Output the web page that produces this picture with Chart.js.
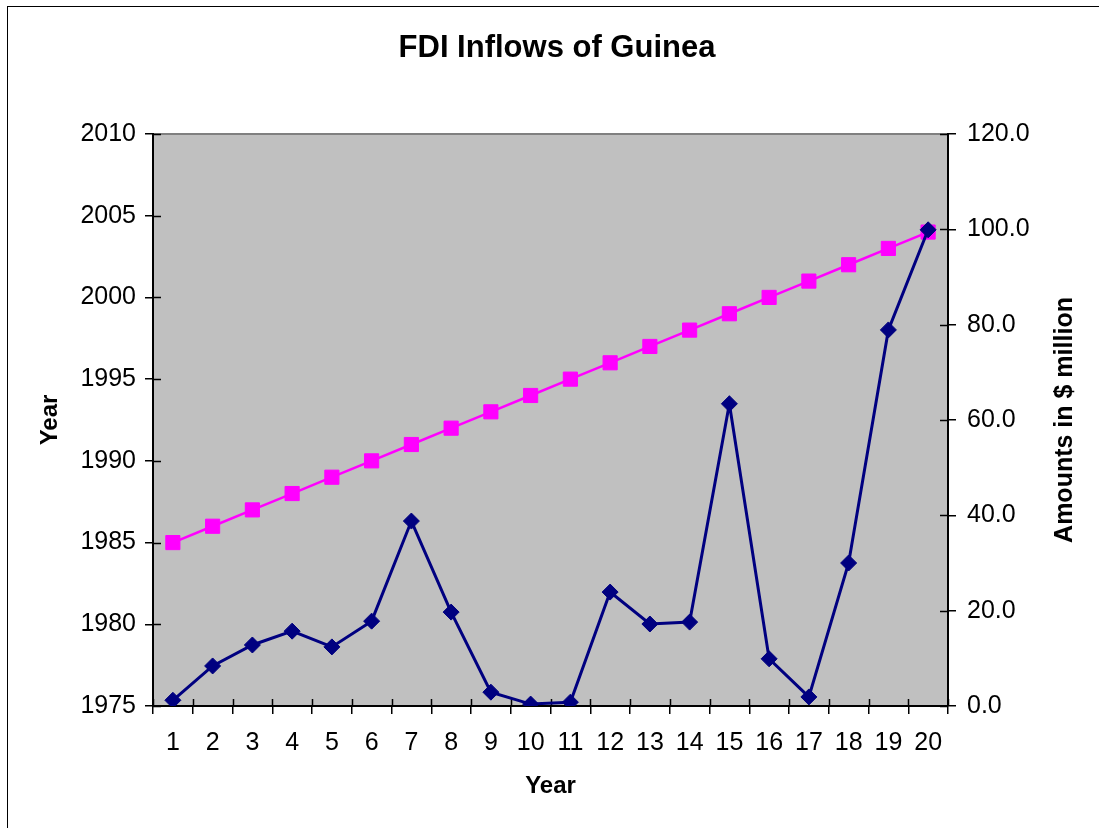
<!DOCTYPE html>
<html>
<head>
<meta charset="utf-8">
<script src="https://cdn.jsdelivr.net/npm/chart.js@4.4.1/dist/chart.umd.min.js"></script>
<style>
  html, body { margin: 0; padding: 0; background: #fff; overflow: hidden; }
  #wrap { position: relative; width: 1099px; height: 828px; }
  #frame { position: absolute; left: 7px; top: 6px; width: 1200px; height: 900px; border: 1.5px solid #000; box-sizing: border-box; pointer-events: none; }
  canvas { position: absolute; left: 0; top: 0; }
</style>
</head>
<body>
<div id="wrap">
  <canvas id="c" width="1099" height="828"></canvas>
  <div id="frame"></div>
</div>
<script>
const chartTitle = 'FDI Inflows of Guinea';
const categories = ['1','2','3','4','5','6','7','8','9','10','11','12','13','14','15','16','17','18','19','20'];
const years = [1985,1986,1987,1988,1989,1990,1991,1992,1993,1994,1995,1996,1997,1998,1999,2000,2001,2002,2003,2004];
const fdiAmounts = [1.2,8.4,12.8,15.7,12.4,17.8,38.8,19.7,2.9,0.4,0.8,23.9,17.2,17.6,63.4,9.9,1.9,30.0,78.9,99.9];
const leftTicks = [1975,1980,1985,1990,1995,2000,2005,2010];
const rightTicks = [0,20,40,60,80,100,120];

const FONT = "'Liberation Sans', Arial, sans-serif";

const plotBg = {
  id: 'plotBg',
  beforeDraw(chart) {
    const {ctx, chartArea: a} = chart;
    ctx.save();
    ctx.fillStyle = '#C0C0C0';
    ctx.fillRect(a.left, a.top, a.right - a.left, a.bottom - a.top);
    ctx.strokeStyle = '#808080';
    ctx.lineWidth = 2;
    ctx.beginPath();
    ctx.moveTo(a.left, a.top);
    ctx.lineTo(a.right, a.top);
    ctx.stroke();
    ctx.restore();
  },
  beforeDatasetsDraw(chart) {
    const {ctx, chartArea: a, scales} = chart;
    ctx.save();
    ctx.strokeStyle = '#000';
    ctx.lineWidth = 1.5;
    ctx.beginPath();
    scales.y.ticks.forEach(t => {
      const p = Math.round(scales.y.getPixelForValue(t.value)) + 0.5;
      ctx.moveTo(a.left, p); ctx.lineTo(a.left + 8, p);
    });
    scales.y1.ticks.forEach(t => {
      const p = Math.round(scales.y1.getPixelForValue(t.value)) + 0.5;
      ctx.moveTo(a.right, p); ctx.lineTo(a.right - 8, p);
    });
    const n = categories.length;
    for (let i = 0; i <= n; i++) {
      const p = Math.round(scales.x.getPixelForValue(i - 0.5)) + 0.5;
      ctx.moveTo(p, a.bottom); ctx.lineTo(p, a.bottom - 7);
    }
    ctx.stroke();
    ctx.restore();
  },
  afterDraw(chart) {
    const {ctx, chartArea: a} = chart;
    ctx.save();
    ctx.fillStyle = '#000';
    ctx.textAlign = 'center';
    ctx.textBaseline = 'middle';
    ctx.font = "bold 31px " + FONT;
    ctx.fillText(chartTitle, 557, 48);
    ctx.font = "bold 25px " + FONT;
    ctx.translate(1065, (a.top + a.bottom) / 2);
    ctx.rotate(-Math.PI / 2);
    ctx.fillText('Amounts in $ million', 0, 0);
    ctx.restore();
  }
};

new Chart(document.getElementById('c'), {
  type: 'line',
  data: {
    labels: categories,
    datasets: [
      {
        label: 'FDI',
        data: fdiAmounts,
        yAxisID: 'y1',
        borderColor: '#000080',
        backgroundColor: '#000080',
        borderWidth: 3,
        pointStyle: 'rectRot',
        pointRadius: 8,
        pointHoverRadius: 8,
        pointBorderWidth: 1,
        tension: 0
      },
      {
        label: 'Year',
        data: years,
        yAxisID: 'y',
        borderColor: '#FF00FF',
        backgroundColor: '#FF00FF',
        borderWidth: 2.5,
        pointStyle: 'rect',
        pointRadius: 10,
        pointHoverRadius: 10,
        pointBorderWidth: 1,
        tension: 0
      }
    ]
  },
  options: {
    responsive: false,
    animation: false,
    devicePixelRatio: 1,
    layout: { padding: { top: 134, left: 0, right: 0, bottom: 0 } },
    plugins: {
      legend: { display: false },
      tooltip: { enabled: false },
      title: { display: false }
    },
    scales: {
      x: {
        type: 'category',
        offset: true,
        afterFit(s) { s.height = 828 - 706; },
        grid: { display: true, offset: true, drawOnChartArea: false, drawTicks: true, tickLength: 8, color: '#000', lineWidth: 1.5 },
        border: { display: true, color: '#000', width: 2 },
        ticks: { color: '#000', font: { family: FONT, size: 25 }, padding: 14, maxRotation: 0, autoSkip: false },
        title: { display: true, text: 'Year', color: '#000', font: { family: FONT, size: 24, weight: 'bold', lineHeight: 1.2 }, padding: { top: 0, bottom: 27.6 } }
      },
      y: {
        type: 'linear',
        position: 'left',
        min: 1975, max: 2010,
        afterFit(s) { s.width = 153; },
        afterBuildTicks(s) { s.ticks = leftTicks.map(v => ({ value: v })); },
        grid: { display: true, drawOnChartArea: false, drawTicks: true, tickLength: 8, color: '#000', lineWidth: 1.5 },
        border: { display: true, color: '#000', width: 2 },
        ticks: { color: '#000', font: { family: FONT, size: 25 }, padding: 9, callback: v => String(v) },
        title: { display: true, text: 'Year', color: '#000', font: { family: FONT, size: 24, weight: 'bold', lineHeight: 1.2 }, padding: { top: 35.6, bottom: 0 } }
      },
      y1: {
        type: 'linear',
        position: 'right',
        min: 0, max: 120,
        afterFit(s) { s.width = 1099 - 948; },
        afterBuildTicks(s) { s.ticks = rightTicks.map(v => ({ value: v })); },
        grid: { display: true, drawOnChartArea: false, drawTicks: true, tickLength: 8, color: '#000', lineWidth: 1.5 },
        border: { display: true, color: '#000', width: 2 },
        ticks: { color: '#000', font: { family: FONT, size: 25 }, padding: 11, callback: v => Number(v).toFixed(1) },
        title: { display: false }
      }
    }
  },
  plugins: [plotBg]
});
</script>
</body>
</html>
